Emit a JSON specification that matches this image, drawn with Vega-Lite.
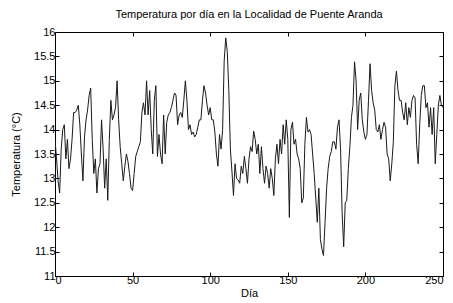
{
  "$schema": "https://vega.github.io/schema/vega-lite/v6.json",
  "width": 388,
  "height": 244,
  "autosize": {"type": "none"},
  "padding": {"left": 55, "top": 32, "right": 10, "bottom": 27},
  "background": "white",
  "config": {
    "view": {"stroke": "black", "strokeWidth": 1},
    "font": "Liberation Sans",
    "axis": {
      "labelFont": "Liberation Sans",
      "labelFontSize": 11,
      "labelColor": "black",
      "titleFont": "Liberation Sans",
      "titleFontSize": 11,
      "titleFontWeight": "normal",
      "titleColor": "black",
      "domainColor": "black",
      "tickColor": "black",
      "tickSize": -4,
      "grid": false
    }
  },
  "title": {
    "text": "Temperatura por día en la Localidad de Puente Aranda",
    "font": "Liberation Sans",
    "fontSize": 11,
    "fontWeight": "normal",
    "color": "black",
    "offset": 6,
    "anchor": "middle"
  },
  "data": {
    "values": [
      {"d":0,"t":13.8},{"d":1,"t":13.4},{"d":2,"t":12.95},{"d":3,"t":12.7},{"d":4,"t":13.6},{"d":5,"t":14.0},{"d":6,"t":14.1},{"d":7,"t":13.4},{"d":8,"t":13.8},{"d":9,"t":13.2},
      {"d":10,"t":13.4},{"d":11,"t":13.8},{"d":12,"t":14.35},{"d":13,"t":14.35},{"d":14,"t":14.4},{"d":15,"t":14.5},{"d":16,"t":14.1},{"d":17,"t":13.5},{"d":18,"t":12.95},{"d":19,"t":13.85},
      {"d":20,"t":14.2},{"d":21,"t":14.4},{"d":22,"t":14.7},{"d":23,"t":14.85},{"d":24,"t":13.8},{"d":25,"t":13.1},{"d":26,"t":13.4},{"d":27,"t":12.7},{"d":28,"t":13.2},{"d":29,"t":13.3},
      {"d":30,"t":14.2},{"d":31,"t":13.6},{"d":32,"t":12.8},{"d":33,"t":13.4},{"d":34,"t":12.55},{"d":35,"t":13.8},{"d":36,"t":14.6},{"d":37,"t":14.2},{"d":38,"t":14.3},{"d":39,"t":14.45},
      {"d":40,"t":15.0},{"d":41,"t":14.2},{"d":42,"t":13.65},{"d":43,"t":13.3},{"d":44,"t":12.95},{"d":45,"t":13.25},{"d":46,"t":13.5},{"d":47,"t":13.35},{"d":48,"t":13.1},{"d":49,"t":12.8},
      {"d":50,"t":12.75},{"d":51,"t":13.1},{"d":52,"t":13.45},{"d":53,"t":13.55},{"d":54,"t":13.65},{"d":55,"t":13.75},{"d":56,"t":14.35},{"d":57,"t":14.55},{"d":58,"t":14.3},{"d":59,"t":15.0},
      {"d":60,"t":14.3},{"d":61,"t":14.8},{"d":62,"t":14.0},{"d":63,"t":13.5},{"d":64,"t":14.6},{"d":65,"t":14.9},{"d":66,"t":13.45},{"d":67,"t":13.9},{"d":68,"t":13.5},{"d":69,"t":13.3},
      {"d":70,"t":14.3},{"d":71,"t":13.5},{"d":72,"t":14.15},{"d":73,"t":14.3},{"d":74,"t":14.35},{"d":75,"t":14.45},{"d":76,"t":14.6},{"d":77,"t":14.75},{"d":78,"t":14.7},{"d":79,"t":14.1},
      {"d":80,"t":14.3},{"d":81,"t":14.35},{"d":82,"t":14.25},{"d":83,"t":14.6},{"d":84,"t":15.0},{"d":85,"t":14.6},{"d":86,"t":14.0},{"d":87,"t":14.1},{"d":88,"t":13.9},{"d":89,"t":13.95},
      {"d":90,"t":13.85},{"d":91,"t":13.9},{"d":92,"t":14.05},{"d":93,"t":14.2},{"d":94,"t":14.2},{"d":95,"t":14.6},{"d":96,"t":14.9},{"d":97,"t":14.75},{"d":98,"t":14.5},{"d":99,"t":14.3},
      {"d":100,"t":14.45},{"d":101,"t":14.2},{"d":102,"t":14.2},{"d":103,"t":13.95},{"d":104,"t":13.5},{"d":105,"t":13.25},{"d":106,"t":13.9},{"d":107,"t":13.6},{"d":108,"t":14.0},{"d":109,"t":15.4},
      {"d":110,"t":15.88},{"d":111,"t":15.6},{"d":112,"t":14.8},{"d":113,"t":13.6},{"d":114,"t":13.15},{"d":115,"t":12.65},{"d":116,"t":13.3},{"d":117,"t":13.0},{"d":118,"t":12.97},{"d":119,"t":12.9},
      {"d":120,"t":13.25},{"d":121,"t":13.1},{"d":122,"t":13.45},{"d":123,"t":13.2},{"d":124,"t":12.9},{"d":125,"t":13.4},{"d":126,"t":13.65},{"d":127,"t":13.55},{"d":128,"t":13.97},{"d":129,"t":13.8},
      {"d":130,"t":13.5},{"d":131,"t":13.7},{"d":132,"t":13.1},{"d":133,"t":13.65},{"d":134,"t":13.2},{"d":135,"t":12.9},{"d":136,"t":13.25},{"d":137,"t":13.1},{"d":138,"t":12.8},{"d":139,"t":13.2},
      {"d":140,"t":13.0},{"d":141,"t":12.65},{"d":142,"t":13.4},{"d":143,"t":13.7},{"d":144,"t":13.3},{"d":145,"t":13.8},{"d":146,"t":13.5},{"d":147,"t":14.1},{"d":148,"t":13.7},{"d":149,"t":14.2},
      {"d":150,"t":13.8},{"d":151,"t":12.2},{"d":152,"t":14.0},{"d":153,"t":14.15},{"d":154,"t":13.7},{"d":155,"t":13.8},{"d":156,"t":13.5},{"d":157,"t":13.4},{"d":158,"t":13.2},{"d":159,"t":12.5},
      {"d":160,"t":12.6},{"d":161,"t":13.7},{"d":162,"t":14.25},{"d":163,"t":13.95},{"d":164,"t":14.0},{"d":165,"t":13.9},{"d":166,"t":13.5},{"d":167,"t":13.1},{"d":168,"t":12.6},{"d":169,"t":12.1},
      {"d":170,"t":12.8},{"d":171,"t":11.75},{"d":172,"t":11.55},{"d":173,"t":11.42},{"d":174,"t":12.1},{"d":175,"t":12.8},{"d":176,"t":13.2},{"d":177,"t":13.45},{"d":178,"t":13.55},{"d":179,"t":13.75},
      {"d":180,"t":13.75},{"d":181,"t":13.6},{"d":182,"t":14.05},{"d":183,"t":14.2},{"d":184,"t":13.6},{"d":185,"t":12.3},{"d":186,"t":11.6},{"d":187,"t":12.5},{"d":188,"t":12.55},{"d":189,"t":13.2},
      {"d":190,"t":13.65},{"d":191,"t":14.25},{"d":192,"t":14.5},{"d":193,"t":15.39},{"d":194,"t":15.0},{"d":195,"t":14.0},{"d":196,"t":14.6},{"d":197,"t":14.75},{"d":198,"t":14.2},{"d":199,"t":13.95},
      {"d":200,"t":13.8},{"d":201,"t":13.9},{"d":202,"t":14.6},{"d":203,"t":15.35},{"d":204,"t":14.8},{"d":205,"t":14.55},{"d":206,"t":14.4},{"d":207,"t":14.0},{"d":208,"t":13.95},{"d":209,"t":14.1},
      {"d":210,"t":13.8},{"d":211,"t":14.0},{"d":212,"t":14.15},{"d":213,"t":14.05},{"d":214,"t":13.5},{"d":215,"t":13.4},{"d":216,"t":12.95},{"d":217,"t":13.3},{"d":218,"t":13.75},{"d":219,"t":14.9},
      {"d":220,"t":15.2},{"d":221,"t":14.8},{"d":222,"t":14.6},{"d":223,"t":14.6},{"d":224,"t":14.35},{"d":225,"t":14.2},{"d":226,"t":14.55},{"d":227,"t":14.1},{"d":228,"t":14.45},{"d":229,"t":14.25},
      {"d":230,"t":14.6},{"d":231,"t":14.7},{"d":232,"t":14.65},{"d":233,"t":13.7},{"d":234,"t":13.3},{"d":235,"t":14.1},{"d":236,"t":14.7},{"d":237,"t":14.9},{"d":238,"t":14.9},{"d":239,"t":14.45},
      {"d":240,"t":14.55},{"d":241,"t":14.05},{"d":242,"t":14.45},{"d":243,"t":13.9},{"d":244,"t":14.45},{"d":245,"t":13.3},{"d":246,"t":13.9},{"d":247,"t":14.5},{"d":248,"t":14.7},{"d":249,"t":14.5},
      {"d":250,"t":14.45}
    ]
  },
  "layer": [
    {
      "mark": {"type": "line", "color": "#1a1a1a", "strokeWidth": 1, "clip": true},
      "encoding": {
        "x": {
          "field": "d", "type": "quantitative",
          "scale": {"domain": [0, 250], "nice": false, "zero": false},
          "axis": {"orient": "bottom", "values": [0, 50, 100, 150, 200, 250], "title": "Día", "titlePadding": 2, "labelPadding": 2}
        },
        "y": {
          "field": "t", "type": "quantitative",
          "scale": {"domain": [11, 16], "nice": false, "zero": false},
          "axis": {"orient": "left", "values": [11, 11.5, 12, 12.5, 13, 13.5, 14, 14.5, 15, 15.5, 16], "format": "~g", "title": "Temperatura (°C)", "titlePadding": 12, "labelPadding": 4}
        }
      }
    },
    {
      "mark": {"type": "line", "opacity": 0},
      "encoding": {
        "x": {
          "field": "d", "type": "quantitative",
          "scale": {"domain": [0, 250], "nice": false, "zero": false},
          "axis": {"orient": "top", "values": [0, 50, 100, 150, 200, 250], "labels": false, "title": null}
        },
        "y": {
          "field": "t", "type": "quantitative",
          "scale": {"domain": [11, 16], "nice": false, "zero": false},
          "axis": {"orient": "right", "values": [11, 11.5, 12, 12.5, 13, 13.5, 14, 14.5, 15, 15.5, 16], "labels": false, "title": null}
        }
      }
    }
  ],
  "resolve": {"axis": {"x": "independent", "y": "independent"}}
}
